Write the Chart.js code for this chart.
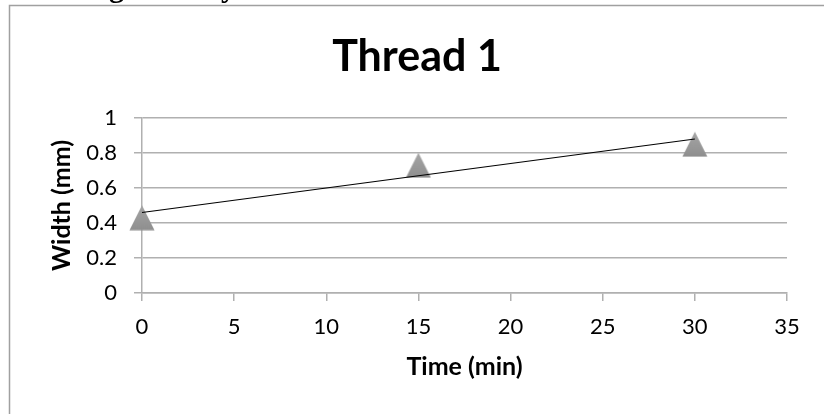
<!DOCTYPE html>
<html>
<head>
<meta charset="utf-8">
<script src="https://cdn.jsdelivr.net/npm/chart.js@4.4.1/dist/chart.umd.min.js"></script>
<style>
  html, body { margin: 0; padding: 0; background: #ffffff; overflow: hidden; }
  #wrap { position: absolute; left: 0; top: 0; width: 824px; height: 414px; }
</style>
</head>
<body>
<div id="wrap"><canvas id="c" width="824" height="414"></canvas></div>
<script>
// ---- data ----
const timeMin = [0, 15, 30];
const widthMm = [0.43, 0.73, 0.85];
const trendX = [0, 30];
const trendY = [0.46, 0.88];
const xTickValues = [0, 5, 10, 15, 20, 25, 30, 35];
const yTickValues = [0, 0.2, 0.4, 0.6, 0.8, 1];
const yTickLabels = ['0', '0.2', '0.4', '0.6', '0.8', '1'];
const xTickLabels = ['0', '5', '10', '15', '20', '25', '30', '35'];
const chartTitle = 'Thread 1';
const xTitle = 'Time (min)';
const yTitle = 'Width (mm)';

const FONT = 'Lato, "Open Sans", sans-serif';
const GRID = '#b0b0b0';

// triangle marker (Excel-like, centred on its bounding box)
const tri = document.createElement('canvas');
tri.width = 26; tri.height = 26;
(function () {
  const t = tri.getContext('2d');
  const g = t.createLinearGradient(0, 0, 0, 26);
  g.addColorStop(0, '#a6a6a6');
  g.addColorStop(1, '#8e8e8e');
  t.fillStyle = g;
  t.beginPath();
  t.moveTo(13, 0.5);
  t.lineTo(25.5, 25.5);
  t.lineTo(0.5, 25.5);
  t.closePath();
  t.fill();
})();

const framePlugin = {
  id: 'frame',
  beforeDraw(chart) {
    const ctx = chart.ctx;
    ctx.save();
    ctx.fillStyle = '#ffffff';
    ctx.fillRect(0, 0, chart.width, chart.height);
    // fragments of the page heading above the chart frame
    ctx.fillStyle = '#000000';
    ctx.font = 'bold 30px "Liberation Serif", serif';
    ctx.textBaseline = 'alphabetic';
    ctx.fillText('g', 109, -3);
    ctx.fillText('y', 221, -3);
    // frame
    ctx.strokeStyle = '#a0a0a0';
    ctx.lineWidth = 1.5;
    ctx.beginPath();
    ctx.moveTo(9.5, 414);
    ctx.lineTo(9.5, 5.5);
    ctx.lineTo(824, 5.5);
    ctx.stroke();
    ctx.restore();
  }
};

new Chart(document.getElementById('c'), {
  type: 'scatter',
  data: {
    datasets: [
      {
        label: 'Linear trend',
        type: 'line',
        data: trendX.map((x, i) => ({ x: x, y: trendY[i] })),
        borderColor: '#000000',
        borderWidth: 1.2,
        pointRadius: 0,
        fill: false,
        clip: false,
        order: 0
      },
      {
        label: 'Thread 1',
        data: timeMin.map((x, i) => ({ x: x, y: widthMm[i] })),
        pointStyle: tri,
        pointRadius: 13,
        clip: false,
        order: 1
      }
    ]
  },
  options: {
    responsive: false,
    animation: false,
    layout: { padding: { left: 47, right: 37, top: 0, bottom: 0 } },
    plugins: {
      legend: { display: false },
      tooltip: { enabled: false },
      title: {
        display: true,
        text: chartTitle,
        color: '#000000',
        font: { family: FONT, size: 43, weight: 'bold', lineHeight: 1.2 },
        padding: { top: 31, bottom: 35.4 }
      }
    },
    scales: {
      x: {
        type: 'linear',
        min: 0, max: 35,
        afterFit(s) { s.height = 121; },
        afterBuildTicks(s) { s.ticks = xTickValues.map(v => ({ value: v })); },
        ticks: {
          color: '#000000',
          font: { family: FONT, size: 22 },
          padding: 13,
          maxRotation: 0,
          callback: (v) => xTickLabels[xTickValues.indexOf(v)]
        },
        grid: { drawOnChartArea: false, drawTicks: true, tickLength: 8, color: GRID, lineWidth: 1.5 },
        border: { display: true, color: GRID, width: 1.5 },
        title: {
          display: true, text: xTitle, color: '#000000',
          font: { family: FONT, size: 25, weight: 'bold', lineHeight: 1.2 },
          padding: { top: 0, bottom: 32 }
        }
      },
      y: {
        type: 'linear',
        min: 0, max: 1,
        afterFit(s) { s.width = 95; },
        afterBuildTicks(s) { s.ticks = yTickValues.map(v => ({ value: v })); },
        ticks: {
          color: '#000000',
          font: { family: FONT, size: 22 },
          padding: 17,
          callback: (v) => yTickLabels[yTickValues.indexOf(v)]
        },
        grid: { drawOnChartArea: true, drawTicks: true, tickLength: 8, color: GRID, lineWidth: 1.5 },
        border: { display: true, color: GRID, width: 1.5 },
        title: {
          display: true, text: yTitle, color: '#000000',
          font: { family: FONT, size: 25, weight: 'bold', lineHeight: 1.2 },
          padding: { top: 0, bottom: 0 }
        }
      }
    }
  },
  plugins: [framePlugin]
});
</script>
</body>
</html>
